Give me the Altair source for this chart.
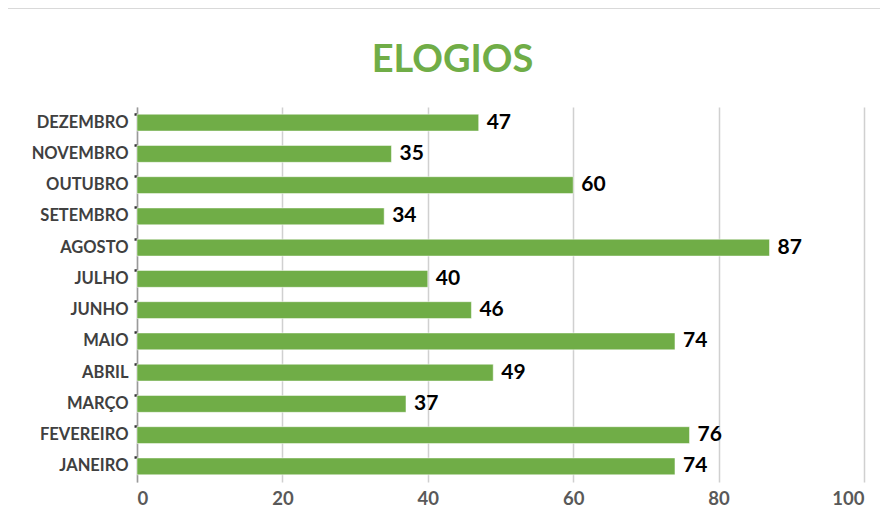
import altair as alt
import pandas as pd

months = ["JANEIRO", "FEVEREIRO", "MARÇO", "ABRIL", "MAIO", "JUNHO",
          "JULHO", "AGOSTO", "SETEMBRO", "OUTUBRO", "NOVEMBRO", "DEZEMBRO"]
values = [74, 76, 37, 49, 74, 46, 40, 87, 34, 60, 35, 47]
x_ticks = [0, 20, 40, 60, 80, 100]

df = pd.DataFrame({"mes": months, "valor": values})
order = list(reversed(months))
GREEN = "#70ad47"
FONT = "Lato"

y_enc = alt.Y("mes:N", sort=order, title=None,
              scale=alt.Scale(paddingInner=0.46, paddingOuter=0.23),
              axis=alt.Axis(labelFont=FONT, labelFontWeight="bold", labelFontSize=16.5,
                            labelColor="#404040", labelPadding=6, domainColor="#9a9a9a",
                            domainWidth=1.5, tickColor="#333333", tickSize=3, tickWidth=2.5,
                            bandPosition=0, grid=False))
x_enc = alt.X("valor:Q", title=None,
              scale=alt.Scale(domain=[0, 100], nice=False),
              axis=alt.Axis(values=x_ticks, labelFont=FONT, labelFontWeight="bold",
                            labelFontSize=18.5, labelColor="#595959", domain=False,
                            ticks=False, gridColor="#d0d0d0", gridWidth=1.5, labelPadding=7))

bars = alt.Chart(df).mark_bar(color=GREEN, stroke="white", strokeWidth=0.5).encode(x=x_enc, y=y_enc)
labels = alt.Chart(df).mark_text(align="left", baseline="middle", dx=8, font=FONT,
                                 fontWeight="bold", fontSize=21, color="#000000").encode(
    x="valor:Q", y=alt.Y("mes:N", sort=order), text="valor:Q")

frame_left = alt.Chart(df).mark_rule(color="#d9d9d9", strokeWidth=1.5).encode(
    x=alt.value(-130), y=alt.value(-100), y2=alt.value(420))
frame_top = alt.Chart(df).mark_rule(color="#d9d9d9", strokeWidth=1.5).encode(
    x=alt.value(-130), x2=alt.value(760), y=alt.value(-99))

chart = alt.layer(frame_left, frame_top, bars, labels).properties(
    width=727, height=375,
    autosize=alt.AutoSizeParams(type="none"),
    padding={"left": 129, "top": 99, "right": 16, "bottom": 33},
    title=alt.TitleParams("ELOGIOS", font=FONT, fontSize=38, fontWeight="bold",
                          color=GREEN, anchor="middle", dx=-48, offset=-74),
).configure_view(stroke=None)

chart.save("out.html", embed_options={"renderer": "svg", "actions": False})
